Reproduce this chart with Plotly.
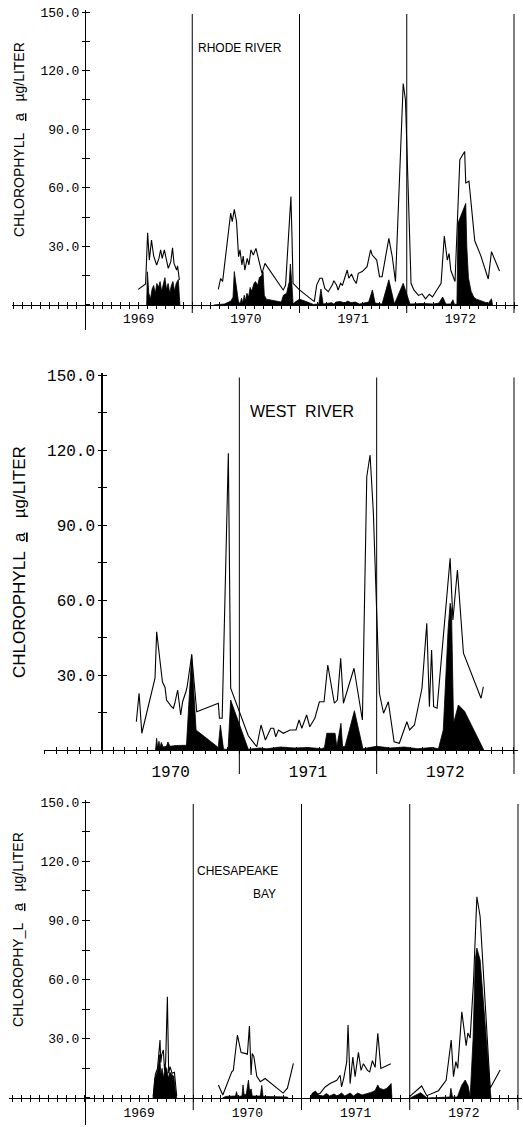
import plotly.graph_objects as go

W, H = 523, 1127

# ---------------- DATA (fractional year, chlorophyll a in ug/L) ----------------
# RHODE RIVER: total chlorophyll (line) and shaded fraction (black fill)
rhode_total_x = [1969.497, 1969.565, 1969.584, 1969.600, 1969.620, 1969.640, 1969.668, 1969.690,
                 1969.705, 1969.720, 1969.740, 1969.760, 1969.776, 1969.800, 1969.816, 1969.830,
                 1969.854, 1969.863, 1969.880, None,
                 1970.243, 1970.265, 1970.283, 1970.358, 1970.373, 1970.392, 1970.413, 1970.432,
                 1970.445, 1970.463, 1970.475, 1970.490, 1970.513, 1970.528, 1970.547, 1970.569,
                 1970.594, 1970.620, 1970.650, 1970.678, 1970.848, 1970.870, 1970.910, 1970.920,
                 1970.930, 1970.940, 1971.000, 1971.138, 1971.160, 1971.190, 1971.212, 1971.236,
                 1971.268, 1971.305, 1971.320, 1971.345, 1971.360, 1971.383, 1971.400, 1971.423,
                 1971.445, 1971.460, 1971.485, 1971.507, 1971.530, 1971.548, 1971.585, 1971.630,
                 1971.663, 1971.678, 1971.720, 1971.746, 1971.770, 1971.833, 1971.865, 1971.895,
                 1971.967, 1971.988, 1972.000, 1972.020, 1972.040, 1972.066, 1972.110, 1972.143,
                 1972.175, 1972.210, 1972.240, 1972.270, 1972.320, 1972.350, 1972.378, 1972.395,
                 1972.410, 1972.450, 1972.495, 1972.540, 1972.550, 1972.580, 1972.600, 1972.634,
                 1972.690, 1972.760, 1972.790, 1972.865]
rhode_total_y = [8.0, 10.8, 37.0, 23.0, 33.3, 25.1, 20.5, 24.0,
                 28.2, 23.9, 28.2, 23.0, 18.8, 22.2, 29.3, 21.3,
                 17.9, 20.0, 12.8, None,
                 8.0, 13.6, 12.0, 47.0, 42.7, 49.0, 42.7, 24.7,
                 28.2, 20.5, 25.0, 17.9, 23.9, 20.5, 28.2, 25.6,
                 29.0, 23.0, 16.2, 21.3, 7.7, 10.0, 47.0, 55.5,
                 35.0, 11.1, 7.7, 1.7, 10.2, 13.7, 13.7, 8.5,
                 6.8, 10.2, 12.4, 10.2, 7.7, 11.1, 10.0, 13.7,
                 17.9, 13.7, 15.9, 12.9, 11.1, 16.2, 17.1, 19.6,
                 28.2, 25.6, 23.0, 14.5, 14.5, 34.1, 24.7, 12.0,
                 113.4, 105.0, 81.0, 41.8, 11.1, 7.7, 4.9, 5.7,
                 3.2, 5.5, 4.1, 6.8, 11.1, 35.3, 23.0, 26.4,
                 17.9, 12.0, 74.4, 78.6, 62.5, 63.4, 52.6, 32.9,
                 25.3, 13.3, 27.3, 17.4]
rhode_part_x = [1969.575, 1969.582, 1969.595, 1969.610, 1969.625, 1969.640, 1969.655, 1969.670,
                1969.685, 1969.700, 1969.715, 1969.730, 1969.745, 1969.760, 1969.775, 1969.790,
                1969.805, 1969.820, 1969.835, 1969.850, 1969.870, 1969.885, None,
                1970.200, 1970.300, 1970.360, 1970.380, 1970.392, 1970.410, 1970.430, 1970.445,
                1970.460, 1970.470, 1970.485, 1970.495, 1970.510, 1970.525, 1970.540, 1970.555,
                1970.575, 1970.590, 1970.610, 1970.625, 1970.645, 1970.660, 1970.672, 1970.690,
                1970.750, 1970.830, 1970.850, 1970.880, 1970.905, 1970.915, 1970.930, 1970.940,
                1970.960, 1971.000, 1971.050, 1971.130, 1971.180, 1971.200, 1971.220, 1971.300,
                1971.320, 1971.340, 1971.380, 1971.420, 1971.450, 1971.480, 1971.520, 1971.560,
                1971.600, 1971.645, 1971.680, 1971.705, 1971.770, 1971.833, 1971.885, 1971.967,
                1972.030, 1972.150, 1972.250, 1972.300, 1972.335, 1972.365, 1972.410, 1972.430,
                1972.445, 1972.468, 1972.478, 1972.500, 1972.530, 1972.550, 1972.560, 1972.575,
                1972.600, 1972.625, 1972.650, 1972.700, 1972.760, 1972.790, 1972.800]
rhode_part_y = [0, 17, 6, 3, 8, 10, 6, 11,
                9, 12, 7, 10, 14, 8, 11, 6,
                10, 12, 7, 11, 13, 0, None,
                0, 0.5, 2.0, 4, 17.1, 10, 2, 0.5,
                3.5, 1, 5, 2, 6, 4, 9, 7,
                11, 12, 10, 14, 15, 17, 5, 3,
                2.5, 1.5, 5, 6, 12, 21, 10, 0.5,
                1.5, 3.0, 2.0, 0.3, 0.5, 8.2, 0.5, 1.2,
                0.5, 1.5, 1.8, 1.0, 2.0, 1.2, 1.5, 0.5,
                1.0, 1.5, 7.7, 1.0, 0.5, 12.9, 0.5, 11.1,
                0.5, 0.8, 0.5, 1.0, 4.1, 0.5, 0.5, 2.7,
                0.3, 0.5, 42, 45, 50, 52, 30, 14,
                7, 4, 3, 2, 0.8, 3.2, 0]

# WEST RIVER
west_total_x = [1970.250, 1970.270, 1970.290, 1970.386, 1970.398, 1970.418, 1970.440, 1970.459,
                1970.470, 1970.507, 1970.520, 1970.530, 1970.551, 1970.573, 1970.587, 1970.611,
                1970.620, 1970.653, 1970.690, 1970.847, 1970.855, 1970.875, 1970.920, 1970.937,
                1970.993, 1971.065, 1971.127, 1971.158, 1971.190, 1971.229, 1971.250, 1971.265,
                1971.285, 1971.320, 1971.370, 1971.413, 1971.435, 1971.455, 1971.490, 1971.513,
                1971.550, 1971.583, 1971.617, 1971.644, 1971.692, 1971.714, 1971.738, 1971.758,
                1971.835, 1971.896, 1971.928, 1971.952, 1971.976, 1972.005, 1972.020, 1972.050,
                1972.085, 1972.127, 1972.165, 1972.220, 1972.240, 1972.275, 1972.330, 1972.365,
                1972.384, 1972.400, 1972.415, 1972.440, 1972.510, 1972.535, 1972.555, 1972.588,
                1972.632, 1972.760, 1972.777]
west_total_y = [11.3, 22.7, 6.7, 28.7, 47.3, 38.7, 27.3, 25.0,
                20.0, 17.3, 16.7, 18.7, 24.0, 14.0, 19.3, 23.3,
                25.3, 38.0, 15.3, 18.7, 12.7, 12.7, 118.7, 24.7,
                16.0, 5.7, 1.3, 10.0, 4.0, 8.7, 8.7, 5.3,
                8.0, 6.7, 8.0, 8.0, 12.0, 8.7, 14.0, 9.3,
                12.7, 19.3, 19.3, 34.0, 18.7, 20.0, 36.7, 18.7,
                32.7, 12.0, 109.3, 118.0, 95.0, 45.0, 22.7, 14.7,
                19.3, 3.3, 2.7, 11.3, 8.0, 10.0, 24.7, 50.7,
                17.3, 40.0, 17.3, 16.7, 62.7, 76.7, 52.0, 72.0,
                38.7, 20.7, 25.3]
west_part_x = [1970.390, 1970.398, 1970.405, 1970.415, 1970.422, 1970.432, 1970.445, 1970.470,
               1970.480, 1970.495, 1970.540, 1970.615, 1970.653, 1970.685, 1970.840, 1970.845,
               1970.862, 1970.885, 1970.918, 1970.937, 1971.065, 1971.150, 1971.200, 1971.300,
               1971.400, 1971.500, 1971.600, 1971.620, 1971.637, 1971.697, 1971.710, 1971.740,
               1971.752, 1971.770, 1971.838, 1971.900, 1972.000, 1972.100, 1972.200, 1972.300,
               1972.400, 1972.450, 1972.485, 1972.520, 1972.535, 1972.545, 1972.560, 1972.595,
               1972.640, 1972.780]
west_part_y = [0, 4.7, 0.8, 3.5, 1, 3.0, 1.2, 1.5,
               3.2, 1.5, 1.8, 1.9, 38.3, 8.0, 1.3, 0.3,
               10.0, 0.3, 0.3, 20.0, 0.3, 0.8, 0.5, 1.2,
               0.8, 1.0, 0.5, 1.0, 6.7, 6.7, 1.3, 10.7,
               1.3, 1.5, 15.7, 0.5, 1.5, 0.8, 1.2, 0.5,
               1.0, 0.5, 8.0, 48.0, 58.7, 56.0, 10.7, 18.0,
               15.5, 0]

# CHESAPEAKE BAY
bay_total_x = [1969.631, 1969.650, 1969.670, 1969.693, 1969.700, 1969.709, 1969.724, 1969.735,
               1969.745, 1969.761, 1969.773, 1969.786, 1969.804, 1969.826, 1969.847, None,
               1970.232, 1970.273, 1970.356, 1970.370, 1970.408, 1970.442, 1970.488, 1970.500,
               1970.519, 1970.534, 1970.545, 1970.560, 1970.587, 1970.620, 1970.664, 1970.800,
               1970.830, 1970.870, 1970.925, None,
               1971.080, 1971.172, 1971.218, 1971.264, 1971.326, 1971.357, 1971.370, 1971.390,
               1971.418, 1971.430, 1971.449, 1971.474, 1971.495, 1971.526, 1971.550, 1971.572,
               1971.609, 1971.630, 1971.655, 1971.680, 1971.705, 1971.733, 1971.825, None,
               1971.998, 1972.110, 1972.157, 1972.265, 1972.336, 1972.383, 1972.404, 1972.426,
               1972.443, 1972.481, 1972.521, 1972.537, 1972.558, 1972.589, 1972.620, 1972.650,
               1972.743, 1972.835]
bay_total_y = [1, 12, 15, 29.4, 18, 22, 24.3, 14,
               18, 51.3, 12.5, 15.9, 12.5, 13, 1, None,
               6.6, 1.5, 13.3, 14.0, 31.9, 23.0, 22.5, 22.0,
               36.5, 11.7, 22.5, 21.0, 11.0, 8.3, 9.9, 4.0,
               2.5, 5.0, 17.6, None,
               0.7, 2.4, 5.6, 7.3, 9.0, 11.5, 5.6, 10.0,
               18.4, 37.0, 7.3, 20.8, 10.8, 23.1, 14.0, 17.4,
               14.0, 13.2, 18.9, 15.5, 32.8, 15.0, 17.4, None,
               0.7, 6.1, 1.2, 3.7, 9.0, 29.4, 10.8, 18.4,
               15.0, 43.7, 26.5, 32.9, 30.4, 59.0, 102.0, 92.0,
               4.9, 14.2]
bay_part_x = [1969.628, 1969.645, 1969.660, 1969.675, 1969.690, 1969.700, 1969.712, 1969.725,
              1969.740, 1969.755, 1969.770, 1969.785, 1969.800, 1969.820, 1969.835, 1969.847, None,
              1970.270, 1970.300, 1970.390, 1970.400, 1970.410, 1970.450, 1970.460, 1970.470,
              1970.490, 1970.510, 1970.520, 1970.535, 1970.545, 1970.620, 1970.633, 1970.645,
              1970.870, 1970.875, None,
              1971.080, 1971.100, 1971.130, 1971.156, 1971.200, 1971.230, 1971.260, 1971.300,
              1971.330, 1971.370, 1971.400, 1971.450, 1971.480, 1971.520, 1971.560, 1971.600,
              1971.640, 1971.660, 1971.680, 1971.705, 1971.720, 1971.760, 1971.790, 1971.828,
              1971.835, None,
              1972.004, 1972.100, 1972.160, 1972.300, 1972.370, 1972.380, 1972.395, 1972.440,
              1972.480, 1972.512, 1972.540, 1972.558, 1972.585, 1972.605, 1972.620, 1972.650,
              1972.680, 1972.710, 1972.745, 1972.750]
bay_part_y = [0, 10, 12, 15, 22, 12, 15, 10,
              16, 15, 10, 13, 12, 11, 4, 0, None,
              0, 0.8, 1, 3.2, 0.8, 1, 6.6, 1.5,
              2, 9.1, 3.6, 4.6, 1.0, 1.0, 6.4, 0.8,
              0.5, 0, None,
              0, 2.5, 3.5, 1.5, 1.0, 2.3, 1.0, 2.0,
              1.0, 2.5, 1.0, 2.5, 1.0, 2.5, 1.5, 2.0,
              2.8, 3.2, 3.8, 6.6, 4.9, 4.2, 5.0, 7.3,
              0, None,
              0, 2.7, 0, 0.3, 0.5, 4.9, 0.5, 0.5,
              6.5, 9.1, 6.0, 0.5, 30, 70, 76, 70,
              49, 28, 2, 0]

# Tick labels
y_tick_vals = [30, 60, 90, 120, 150]
y_tick_text = ["30.0", "60.0", "90.0", "120.0", "150.0"]
years_a = ["1969", "1970", "1971", "1972"]
years_b = ["1970", "1971", "1972"]

# ---------------- LAYOUT GEOMETRY (pixels) ----------------
panels = [
    dict(tx=rhode_total_x, ty=rhode_total_y, fx=rhode_part_x, fy=rhode_part_y,
         y0=1969, y0px=85, ppy=107.25, xmin=1968.32, xmax=1973.04,
         py0=305, ppu=1.953, ymin=-12.8, ymax=151, years=years_a, first=1969,
         bounds=[1970, 1971, 1972, 1973], below=8, tickfs=13, yfs=13, titlefs=14,
         standoff=-2,
         title="CHLOROPHYLL&nbsp;&nbsp;&nbsp;<u>a</u>&nbsp;&nbsp;&nbsp;µg/LITER", title_xy=(19, 140),
         ylw=1),
    dict(tx=west_total_x, ty=west_total_y, fx=west_part_x, fy=west_part_y,
         y0=1970, y0px=102, ppy=137.33, xmin=1969.58, xmax=1973.03,
         py0=750, ppu=2.5, ymin=0, ymax=151, years=years_b, first=1970,
         bounds=[1971, 1972, 1973], below=24, tickfs=16, yfs=16, titlefs=17,
         standoff=4,
         title="CHLOROPHYLL&nbsp;&nbsp;<u>a</u>&nbsp;&nbsp;&nbsp;µg/LITER", title_xy=(20, 562),
         ylw=1.5),
    dict(tx=bay_total_x, ty=bay_total_y, fx=bay_part_x, fy=bay_part_y,
         y0=1969, y0px=85, ppy=108.25, xmin=1968.30, xmax=1973.04,
         py0=1098, ppu=1.973, ymin=-13.7, ymax=151, years=years_a, first=1969,
         bounds=[1970, 1971, 1972, 1973], below=12, tickfs=13, yfs=13, titlefs=14,
         standoff=-1,
         title="CHLOROPHY_L&nbsp;&nbsp;&nbsp;<u>a</u>&nbsp;&nbsp;&nbsp;µg/LITER", title_xy=(18, 930),
         ylw=1),
]

fig = go.Figure()
layout = dict(template="none", width=W, height=H, margin=dict(l=0, r=0, t=0, b=0, pad=0),
              plot_bgcolor="white", paper_bgcolor="white", showlegend=False)
shapes = []
annotations = []
TICKFONT = "Liberation Mono, DejaVu Sans Mono, monospace"
TEXTFONT = "Liberation Sans, Arial, sans-serif"

for i, p in enumerate(panels, start=1):
    xa = "x" if i == 1 else f"x{i}"
    ya = "y" if i == 1 else f"y{i}"
    ox, oy = f"x{i+3}", f"y{i+3}"
    # domains
    xpx0 = p["y0px"] + (p["xmin"] - p["y0"]) * p["ppy"]
    xpx1 = p["y0px"] + (p["xmax"] - p["y0"]) * p["ppy"]
    ypx_bot = p["py0"] - p["ymin"] * p["ppu"]
    ypx_top = p["py0"] - p["ymax"] * p["ppu"]
    xdom = [xpx0 / W, xpx1 / W]
    ydom = [1 - ypx_bot / H, 1 - ypx_top / H]
    xpos = 1 - p["py0"] / H
    ypos = p["y0px"] / W

    fig.add_trace(go.Scatter(x=p["fx"], y=p["fy"], mode="lines", fill="tozeroy",
                             fillcolor="black", line=dict(color="black", width=0.8),
                             xaxis=xa, yaxis=ya, hoverinfo="skip"))
    fig.add_trace(go.Scatter(x=p["tx"], y=p["ty"], mode="lines",
                             line=dict(color="black", width=1.1),
                             xaxis=xa, yaxis=ya, hoverinfo="skip"))
    # invisible trace to register overlay axes (inside tick marks)
    fig.add_trace(go.Scatter(x=[None], y=[None], mode="lines", xaxis=ox, yaxis=oy,
                             hoverinfo="skip"))

    mids = [p["first"] + k + 0.5 for k in range(len(p["years"]))]
    layout["xaxis" if i == 1 else f"xaxis{i}"] = dict(
        domain=xdom, range=[p["xmin"], p["xmax"]], anchor="free", position=xpos,
        automargin=False,
        showline=True, linecolor="black", linewidth=1, showgrid=False, zeroline=False,
        tickmode="array", tickvals=mids, ticktext=p["years"], ticks="outside", ticklen=3,
        ticklabelstandoff=p["standoff"],
        tickcolor="black", tickfont=dict(family=TICKFONT, size=p["tickfs"], color="black"),
        minor=dict(tickmode="linear", tick0=p["first"], dtick=1 / 12, ticks="outside",
                   ticklen=3, tickcolor="black", showgrid=False),
        fixedrange=True)
    layout[f"xaxis{i+3}"] = dict(
        domain=xdom, range=[p["xmin"], p["xmax"]], anchor="free", position=xpos,
        automargin=False,
        overlaying=xa, showline=False, showgrid=False, zeroline=False,
        showticklabels=False, tickmode="linear", tick0=p["first"], dtick=1 / 12,
        ticks="inside", ticklen=3, tickcolor="black", fixedrange=True)
    layout["yaxis" if i == 1 else f"yaxis{i}"] = dict(
        domain=ydom, range=[p["ymin"], p["ymax"]], anchor="free", position=ypos,
        automargin=False,
        showline=True, linecolor="black", linewidth=p["ylw"], showgrid=False, zeroline=False,
        tickmode="array", tickvals=y_tick_vals, ticktext=y_tick_text, ticks="outside",
        ticklen=3, tickcolor="black",
        tickfont=dict(family=TICKFONT, size=p["yfs"], color="black"),
        minor=dict(tickmode="linear", tick0=15, dtick=30, ticks="outside", ticklen=3,
                   tickcolor="black", showgrid=False),
        fixedrange=True)
    layout[f"yaxis{i+3}"] = dict(
        domain=ydom, range=[p["ymin"], p["ymax"]], anchor="free", position=ypos,
        automargin=False,
        overlaying=ya, showline=False, showgrid=False, zeroline=False,
        showticklabels=False, tickmode="linear", tick0=0, dtick=15,
        ticks="inside", ticklen=4, tickcolor="black", fixedrange=True)

    # year boundary lines
    for b in p["bounds"]:
        shapes.append(dict(type="line", xref=xa, yref="paper", x0=b, x1=b,
                           y0=1 - (p["py0"] + p["below"]) / H,
                           y1=1 - (p["py0"] - 149 * p["ppu"]) / H,
                           line=dict(color="black", width=1)))
    # y axis title
    tx, ty = p["title_xy"]
    annotations.append(dict(x=tx / W, y=1 - ty / H, xref="paper", yref="paper",
                            text=p["title"], textangle=-90, showarrow=False,
                            xanchor="center", yanchor="middle",
                            font=dict(family=TEXTFONT, size=p["titlefs"], color="black")))

annotations.append(dict(x=196 / W, y=1 - 48 / H, xref="paper", yref="paper",
                        text="RHODE RIVER", showarrow=False, xanchor="left", yanchor="middle",
                        font=dict(family=TEXTFONT, size=12, color="black")))
annotations.append(dict(x=248 / W, y=1 - 411 / H, xref="paper", yref="paper",
                        text="WEST&nbsp;&nbsp;RIVER", showarrow=False, xanchor="left",
                        yanchor="middle",
                        font=dict(family=TEXTFONT, size=16, color="black")))
annotations.append(dict(x=195 / W, y=1 - 871 / H, xref="paper", yref="paper",
                        text="CHESAPEAKE", showarrow=False, xanchor="left", yanchor="middle",
                        font=dict(family=TEXTFONT, size=12, color="black")))
annotations.append(dict(x=278 / W, y=1 - 894 / H, xref="paper", yref="paper",
                        text="BAY", showarrow=False, xanchor="right", yanchor="middle",
                        font=dict(family=TEXTFONT, size=12, color="black")))

layout["shapes"] = shapes
layout["annotations"] = annotations
fig.update_layout(**layout)
fig.write_html("out.html")
